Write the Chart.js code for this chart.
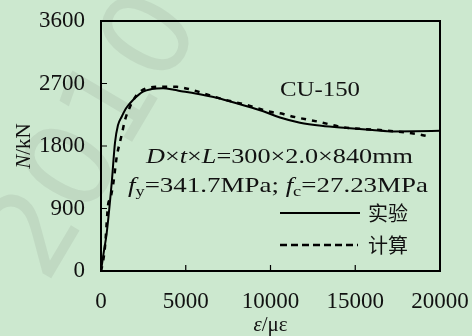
<!DOCTYPE html>
<html>
<head>
<meta charset="utf-8">
<script src="https://cdn.jsdelivr.net/npm/chart.js@4.4.0/dist/chart.umd.min.js"></script>
<style>
  html, body { margin: 0; padding: 0; background: #cce8cf; }
</style>
</head>
<body>
<canvas id="chart" width="472" height="336"></canvas>
<script>
// test curve (实验)
const strainTest = [0, 150, 336, 631, 826, 1000, 1220, 1500, 1888, 2478, 3000, 3660, 4300, 4838, 5500, 6826, 8200, 9575, 10560, 11740, 13000, 14496, 16000, 17245, 18500, 20000];
const loadTest = [0, 250, 547, 1267, 1850, 2100, 2222, 2350, 2462, 2582, 2620, 2632, 2610, 2585, 2560, 2495, 2400, 2300, 2210, 2135, 2090, 2058, 2030, 2010, 2012, 2020];
// calculated curve (计算)
const strainCalc = [0, 136, 236, 431, 531, 726, 926, 1220, 1416, 1711, 1906, 2300, 3086, 3800, 4466, 5251, 6036, 7214, 8596, 9970, 10755, 11345, 12820, 14296, 16460, 18625, 19410];
const loadCalc = [0, 158, 350, 975, 1030, 1262, 1640, 1960, 2174, 2366, 2462, 2582, 2650, 2655, 2652, 2616, 2559, 2472, 2390, 2294, 2261, 2222, 2150, 2069, 2030, 1973, 1934];

const xTicks = [0, 5000, 10000, 15000, 20000];
const yTicks = [0, 900, 1800, 2700, 3600];

const serif = '"Liberation Serif", "Times New Roman", serif';
const cjk = '"Noto Sans CJK SC", sans-serif';

function toPoints(xs, ys) {
  return xs.map((x, i) => ({ x, y: ys[i] }));
}

function fontFor(style, size) {
  const fs = style === 's' ? size * 0.68 : size;
  return `${style === 'i' ? 'italic ' : ''}${fs}px ${serif}`;
}

function richWidth(ctx, parts, size) {
  let total = 0;
  parts.forEach(([text, style]) => {
    ctx.font = fontFor(style, size);
    total += ctx.measureText(text).width;
  });
  return total;
}

// draws mixed italic / subscript text, optionally stretched to a width
function drawRich(ctx, parts, x, y, size, width) {
  const total = richWidth(ctx, parts, size);
  const sx = width ? width / total : 1;
  ctx.save();
  ctx.translate(x, y);
  ctx.scale(sx, 1);
  ctx.textAlign = 'left';
  ctx.textBaseline = 'alphabetic';
  let cx = 0;
  parts.forEach(([text, style]) => {
    ctx.font = fontFor(style, size);
    ctx.fillText(text, cx, style === 's' ? size * 0.2 : 0);
    cx += ctx.measureText(text).width;
  });
  ctx.restore();
}

const backdrop = {
  id: 'backdrop',
  beforeDraw(chart) {
    const { ctx, width, height } = chart;
    ctx.save();
    ctx.fillStyle = '#cce8cf';
    ctx.fillRect(0, 0, width, height);
    // faint watermark
    ctx.translate(20, 270);
    ctx.rotate(-Math.PI * 0.33);
    ctx.font = '120px "DejaVu Sans", sans-serif';
    ctx.fillStyle = 'rgba(150, 165, 152, 0.22)';
    ctx.textBaseline = 'middle';
    ctx.fillText('2010', 0, 0);
    ctx.restore();
  },
};

const decorations = {
  id: 'decorations',
  afterDatasetsDraw(chart) {
    const { ctx, chartArea: area, scales } = chart;
    const xs = scales.x;
    const ys = scales.y;
    ctx.save();
    ctx.strokeStyle = '#000';
    ctx.fillStyle = '#111';

    // frame
    ctx.lineWidth = 2;
    ctx.strokeRect(area.left, area.top, area.right - area.left, area.bottom - area.top);

    // inward tick marks
    ctx.lineWidth = 1.2;
    ctx.beginPath();
    xTicks.slice(1, -1).forEach((v) => {
      const px = xs.getPixelForValue(v);
      ctx.moveTo(px, area.bottom);
      ctx.lineTo(px, area.bottom - 6);
    });
    yTicks.slice(1, -1).forEach((v) => {
      const py = ys.getPixelForValue(v);
      ctx.moveTo(area.left, py);
      ctx.lineTo(area.left + 6, py);
    });
    ctx.stroke();

    // annotations
    drawRich(ctx, [['CU-150', '']], 280, 96, 22, 80);
    drawRich(ctx, [['D', 'i'], ['×', ''], ['t', 'i'], ['×', ''], ['L', 'i'], ['=300×2.0×840mm', '']], 146, 163, 22, 267);
    drawRich(ctx, [['f', 'i'], ['y', 's'], ['=341.7MPa; ', ''], ['f', 'i'], ['c', 's'], ['=27.23MPa', '']], 128, 192, 22, 300);

    // legend
    ctx.lineWidth = 2;
    ctx.beginPath();
    ctx.moveTo(280, 213);
    ctx.lineTo(360, 213);
    ctx.stroke();
    ctx.lineWidth = 2.5;
    ctx.setLineDash([7, 4]);
    ctx.beginPath();
    ctx.moveTo(280, 245);
    ctx.lineTo(358, 245);
    ctx.stroke();
    ctx.setLineDash([]);
    ctx.font = `20px ${cjk}`;
    ctx.textAlign = 'left';
    ctx.textBaseline = 'middle';
    ctx.fillText('实验', 368, 213);
    ctx.fillText('计算', 368, 245);

    // axis titles
    const xTitle = [['ε', 'i'], ['/με', '']];
    const xw = richWidth(ctx, xTitle, 21);
    drawRich(ctx, xTitle, (area.left + area.right) / 2 - xw / 2, 331, 21);

    const yTitle = [['N', 'i'], ['/kN', '']];
    const yw = richWidth(ctx, yTitle, 21);
    ctx.translate(30, (area.top + area.bottom) / 2);
    ctx.rotate(-Math.PI / 2);
    drawRich(ctx, yTitle, -yw / 2, 0, 21);
    ctx.restore();
  },
};

new Chart(document.getElementById('chart'), {
  type: 'scatter',
  data: {
    datasets: [
      {
        label: '实验',
        data: toPoints(strainTest, loadTest),
        showLine: true,
        borderColor: '#000',
        borderWidth: 2,
        pointRadius: 0,
        cubicInterpolationMode: 'monotone',
      },
      {
        label: '计算',
        data: toPoints(strainCalc, loadCalc),
        showLine: true,
        borderColor: '#000',
        borderWidth: 2.5,
        borderDash: [5, 6],
        pointRadius: 0,
        cubicInterpolationMode: 'monotone',
      },
    ],
  },
  options: {
    responsive: false,
    animation: false,
    layout: { padding: { top: 21, right: 32, left: 0, bottom: 0 } },
    plugins: {
      legend: { display: false },
      tooltip: { enabled: false },
    },
    scales: {
      x: {
        type: 'linear',
        min: 0,
        max: 20000,
        afterBuildTicks: (scale) => { scale.ticks = xTicks.map((value) => ({ value })); },
        afterFit: (scale) => {
          scale.height = 65;
          scale.paddingLeft = 0;
          scale.paddingRight = 0;
        },
        grid: { display: false, drawTicks: false },
        border: { display: false },
        ticks: {
          color: '#111',
          padding: 17,
          maxRotation: 0,
          font: { family: serif, size: 23 },
          callback: (value) => String(value),
        },
      },
      y: {
        type: 'linear',
        min: 0,
        max: 3600,
        afterBuildTicks: (scale) => { scale.ticks = yTicks.map((value) => ({ value })); },
        afterFit: (scale) => {
          scale.width = 101;
          scale.paddingTop = 0;
          scale.paddingBottom = 0;
        },
        grid: { display: false, drawTicks: false },
        border: { display: false },
        ticks: {
          color: '#111',
          padding: 16,
          font: { family: serif, size: 23 },
          callback: (value) => String(value),
        },
      },
    },
  },
  plugins: [backdrop, decorations],
});
</script>
</body>
</html>
